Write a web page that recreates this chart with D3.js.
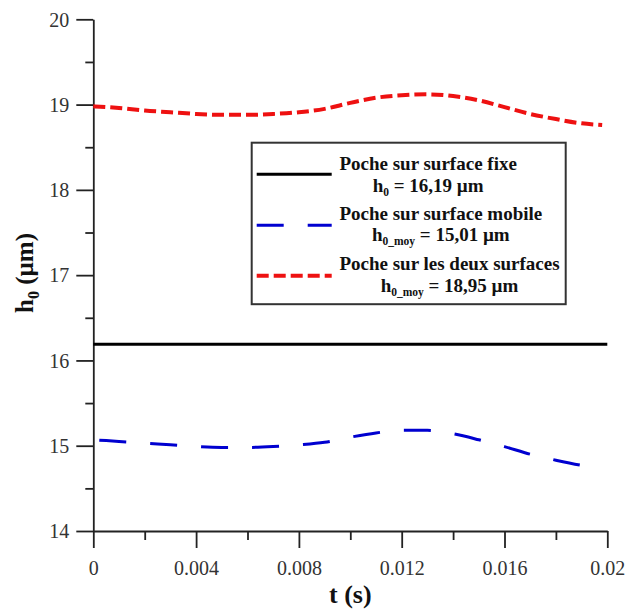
<!DOCTYPE html>
<html><head><meta charset="utf-8">
<script src="https://cdn.jsdelivr.net/npm/d3@7"></script>
<style>
body{margin:0;background:#fff;}
text{font-family:"Liberation Serif","Times New Roman",serif;}
</style></head>
<body><svg id="c" width="626" height="612"></svg>
<script>
// ---- data ----
const fixedValue = 16.19;
const redT = [0,0.001,0.002,0.003,0.004,0.005,0.006,0.007,0.008,0.009,0.010,0.011,0.012,0.013,0.014,0.015,0.016,0.017,0.018,0.019,0.0198];
const redH = [18.98,18.96,18.93,18.91,18.89,18.88,18.88,18.89,18.91,18.95,19.02,19.08,19.11,19.12,19.10,19.05,18.97,18.89,18.83,18.78,18.76];
const blueT = [0,0.001,0.002,0.003,0.004,0.005,0.006,0.007,0.008,0.009,0.010,0.011,0.012,0.013,0.014,0.015,0.016,0.017,0.018,0.019,0.0192];
const blueH = [15.07,15.05,15.03,15.01,14.99,14.98,14.98,14.99,15.01,15.04,15.10,15.15,15.18,15.18,15.14,15.07,14.99,14.90,14.83,14.77,14.76];
const xMajor = [0,0.004,0.008,0.012,0.016,0.02];
const xTickLabels = ["0","0.004","0.008","0.012","0.016","0.02"];
const xMinor = [0.002,0.006,0.010,0.014,0.018];
const yMajor = [14,15,16,17,18,19,20];
const yTickLabels = ["14","15","16","17","18","19","20"];
const yMinor = [14.5,15.5,16.5,17.5,18.5,19.5];
const legendTitles = ["Poche sur surface fixe","Poche sur surface mobile","Poche sur les deux surfaces"];
const legendSubs = ["0","0_moy","0_moy"];
const legendValues = [" = 16,19 µm"," = 15,01 µm"," = 18,95 µm"];

// ---- layout ----
const svg = d3.select("#c");
const x = d3.scaleLinear().domain([0,0.02]).range([93.3,607.3]);
const y = d3.scaleLinear().domain([14,20]).range([531,19.3]);
const axCol = "#222";

const gy = svg.append("g").attr("transform",`translate(${x(0)},0)`);
gy.call(d3.axisLeft(y).tickValues(yMajor).tickSize(17).tickSizeOuter(0).tickPadding(7)
  .tickFormat((d,i)=>yTickLabels[i]));
const gym = svg.append("g").attr("transform",`translate(${x(0)},0)`);
gym.call(d3.axisLeft(y).tickValues(yMinor).tickSize(8).tickSizeOuter(0).tickFormat(""));
gym.select(".domain").remove();

const gx = svg.append("g").attr("transform",`translate(0,${y(14)})`);
gx.call(d3.axisBottom(x).tickValues(xMajor).tickSize(17).tickSizeOuter(0)
  .tickFormat((d,i)=>xTickLabels[i]));
const gxm = svg.append("g").attr("transform",`translate(0,${y(14)})`);
gxm.call(d3.axisBottom(x).tickValues(xMinor).tickSize(9).tickSizeOuter(0).tickFormat(""));
gxm.select(".domain").remove();

svg.selectAll(".domain, .tick line").attr("stroke",axCol).attr("stroke-width",1.8);
svg.selectAll(".tick text").attr("font-size",20).attr("fill","#333");
gx.selectAll(".tick text").attr("y",44).attr("dy",0);
gy.selectAll(".tick text").attr("dy","0.34em");
gx.select(".tick line").attr("y1",0);

svg.append("text").attr("x",350.3).attr("y",603).attr("text-anchor","middle")
  .attr("font-size",26).attr("font-weight","bold").attr("fill","#111").text("t (s)");
const yt = svg.append("text").attr("transform","translate(33,273) rotate(-90)")
  .attr("text-anchor","middle").attr("font-size",25).attr("font-weight","bold").attr("fill","#111");
yt.append("tspan").text("h");
yt.append("tspan").attr("font-size",16).attr("dy",6).text("0");
yt.append("tspan").attr("dy",-6).text(" (µm)");

const line = d3.line().x(d=>x(d[0])).y(d=>y(d[1])).curve(d3.curveMonotoneX);
svg.append("line").attr("x1",x(0)).attr("x2",x(0.02)).attr("y1",y(fixedValue)).attr("y2",y(fixedValue))
  .attr("stroke","#000").attr("stroke-width",3);
svg.append("path").datum(blueT.map((t,i)=>[t,blueH[i]])).attr("d",line).attr("fill","none")
  .attr("stroke","#0000d0").attr("stroke-width",3).attr("stroke-dasharray","27,24").attr("stroke-dashoffset",45);
svg.append("path").datum(redT.map((t,i)=>[t,redH[i]])).attr("d",line).attr("fill","none")
  .attr("stroke","#ee1111").attr("stroke-width",4).attr("stroke-dasharray","12,5");

svg.append("rect").attr("x",251.7).attr("y",142.7).attr("width",314).attr("height",161.5)
  .attr("fill","#fff").attr("stroke","#333").attr("stroke-width",2);
const styles = [{c:"#000",w:3,d:null},{c:"#0000d0",w:3,d:"27,24"},{c:"#ee1111",w:4,d:"12,5"}];
const lineY = [174.3,225.2,275.7];
const base1 = [169.7,220.2,269.7];
const base2 = [191.6,241,291.6];
styles.forEach((s,i)=>{
  const l = svg.append("line").attr("x1",256.7).attr("x2",331.7).attr("y1",lineY[i]).attr("y2",lineY[i])
    .attr("stroke",s.c).attr("stroke-width",s.w);
  if(s.d) l.attr("stroke-dasharray",s.d);
  const t1 = svg.append("text").attr("x",339.4).attr("y",base1[i]).attr("font-size",19)
    .attr("font-weight","bold").attr("fill","#111").text(legendTitles[i]);
  const w = t1.node().getComputedTextLength();
  const t2 = svg.append("text").attr("x",339.4+w/2).attr("y",base2[i]).attr("text-anchor","middle")
    .attr("font-size",19).attr("font-weight","bold").attr("fill","#111");
  t2.append("tspan").text("h");
  t2.append("tspan").attr("font-size",11.5).attr("dy",4).text(legendSubs[i]);
  t2.append("tspan").attr("dy",-4).text(legendValues[i]);
});
</script></body></html>
